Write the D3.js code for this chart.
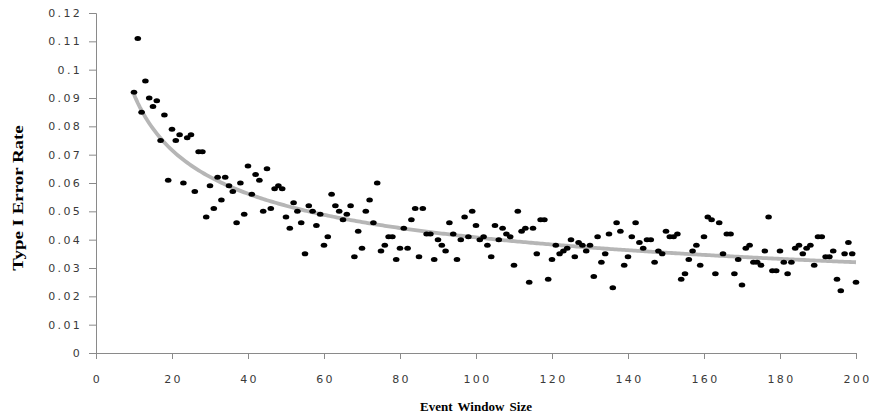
<!DOCTYPE html>
<html>
<head>
<meta charset="utf-8">
<script src="https://cdn.jsdelivr.net/npm/d3@7/dist/d3.min.js"></script>
<style>
  html, body { margin: 0; padding: 0; background: #fff; }
  svg { display: block; }
  .tick text { font-family: "DejaVu Sans", Verdana, sans-serif; font-size: 11px; fill: #3a3a3a; letter-spacing: 2.3px; }
  .axis-title { font-family: "Liberation Serif", "Times New Roman", serif; font-weight: bold; fill: #000; }
</style>
</head>
<body>
<svg id="chart" width="870" height="414"></svg>
<script>
// Event window sizes and the measured Type I error rate at each size
const windowSizes = d3.range(10, 201);
const errorRates = [
  0.092, 0.111, 0.085, 0.096, 0.090, 0.087, 0.089, 0.075, 0.084, 0.061,
  0.079, 0.075, 0.077, 0.060, 0.076, 0.077, 0.057, 0.071, 0.071, 0.048,
  0.059, 0.051, 0.062, 0.054, 0.062, 0.059, 0.057, 0.046, 0.060, 0.049,
  0.066, 0.056, 0.063, 0.061, 0.050, 0.065, 0.051, 0.058, 0.059, 0.058,
  0.048, 0.044, 0.053, 0.050, 0.046, 0.035, 0.052, 0.050, 0.045, 0.049,
  0.038, 0.041, 0.056, 0.052, 0.050, 0.047, 0.049, 0.052, 0.034, 0.043,
  0.037, 0.050, 0.054, 0.046, 0.060, 0.036, 0.038, 0.041, 0.041, 0.033,
  0.037, 0.044, 0.037, 0.047, 0.051, 0.034, 0.051, 0.042, 0.042, 0.033,
  0.040, 0.038, 0.036, 0.046, 0.042, 0.033, 0.040, 0.048, 0.041, 0.050,
  0.045, 0.040, 0.041, 0.038, 0.034, 0.045, 0.040, 0.044, 0.042, 0.041,
  0.031, 0.050, 0.043, 0.044, 0.025, 0.044, 0.035, 0.047, 0.047, 0.026,
  0.033, 0.038, 0.035, 0.036, 0.037, 0.040, 0.034, 0.039, 0.038, 0.036,
  0.038, 0.027, 0.041, 0.032, 0.035, 0.042, 0.023, 0.046, 0.043, 0.031,
  0.034, 0.041, 0.046, 0.039, 0.037, 0.040, 0.040, 0.032, 0.036, 0.035,
  0.043, 0.041, 0.041, 0.042, 0.026, 0.028, 0.033, 0.036, 0.038, 0.031,
  0.041, 0.048, 0.047, 0.028, 0.046, 0.035, 0.042, 0.042, 0.028, 0.033,
  0.024, 0.037, 0.038, 0.032, 0.032, 0.031, 0.036, 0.048, 0.029, 0.029,
  0.036, 0.032, 0.028, 0.032, 0.037, 0.038, 0.035, 0.037, 0.038, 0.031,
  0.041, 0.041, 0.034, 0.034, 0.036, 0.026, 0.022, 0.035, 0.039, 0.035,
  0.025
];
const xTicks = [0, 20, 40, 60, 80, 100, 120, 140, 160, 180, 200];
const yTicks = [0, 0.01, 0.02, 0.03, 0.04, 0.05, 0.06, 0.07, 0.08, 0.09, 0.1, 0.11, 0.12];
const xTitle = "Event Window Size";
const yTitle = "Type I Error Rate";

const points = windowSizes.map((w, i) => ({ x: w, y: errorRates[i] }));

// Power-law trendline y = a * x^b fitted by least squares in log-log space
const lx = points.map(p => Math.log(p.x));
const ly = points.map(p => Math.log(p.y));
const mx = d3.mean(lx), my = d3.mean(ly);
const b = d3.sum(lx, (v, i) => (v - mx) * (ly[i] - my)) / d3.sum(lx, v => (v - mx) * (v - mx));
const a = Math.exp(my - b * mx);
const trend = d3.range(10, 200.5, 0.5).map(x => ({ x, y: a * Math.pow(x, b) }));

const svg = d3.select("#chart");
const plot = { left: 96, right: 856, top: 13, bottom: 353 };

const x = d3.scaleLinear().domain([0, 200]).range([plot.left, plot.right]);
const y = d3.scaleLinear().domain([0, 0.12]).range([plot.bottom, plot.top]);

const axisColor = "#8a8a8a";

// Y axis
const yAxis = svg.append("g")
  .attr("transform", `translate(${plot.left},0)`)
  .call(d3.axisLeft(y).tickValues(yTicks).tickSize(7).tickPadding(7)
    .tickFormat(d => d3.format("")(+d.toFixed(2))));
yAxis.select(".domain").attr("stroke", axisColor);
yAxis.selectAll(".tick line").attr("stroke", axisColor);

// X axis
const xAxis = svg.append("g")
  .attr("transform", `translate(0,${plot.bottom})`)
  .call(d3.axisBottom(x).tickValues(xTicks).tickSize(6).tickPadding(16));
xAxis.select(".domain").attr("stroke", axisColor);
xAxis.selectAll(".tick line").attr("stroke", axisColor);
xAxis.selectAll(".tick text").attr("dx", "1px");

// Trendline
svg.append("path")
  .datum(trend)
  .attr("fill", "none")
  .attr("stroke", "#b6b6b6")
  .attr("stroke-width", 3.8)
  .attr("d", d3.line().x(d => x(d.x)).y(d => y(d.y)));

// Data points
svg.append("g")
  .selectAll("ellipse")
  .data(points)
  .join("ellipse")
  .attr("cx", d => x(d.x))
  .attr("cy", d => y(d.y))
  .attr("rx", 3.3)
  .attr("ry", 2.5)
  .attr("fill", "#000");

// Axis titles
svg.append("text")
  .attr("class", "axis-title")
  .attr("x", (plot.left + plot.right) / 2)
  .attr("y", 411)
  .attr("text-anchor", "middle")
  .attr("font-size", 13)
  .attr("word-spacing", 2)
  .text(xTitle);

svg.append("text")
  .attr("class", "axis-title")
  .attr("transform", "translate(23,198) rotate(-90) scale(1.35,1)")
  .attr("text-anchor", "middle")
  .attr("font-size", 14)
  .text(yTitle);
</script>
</body>
</html>
